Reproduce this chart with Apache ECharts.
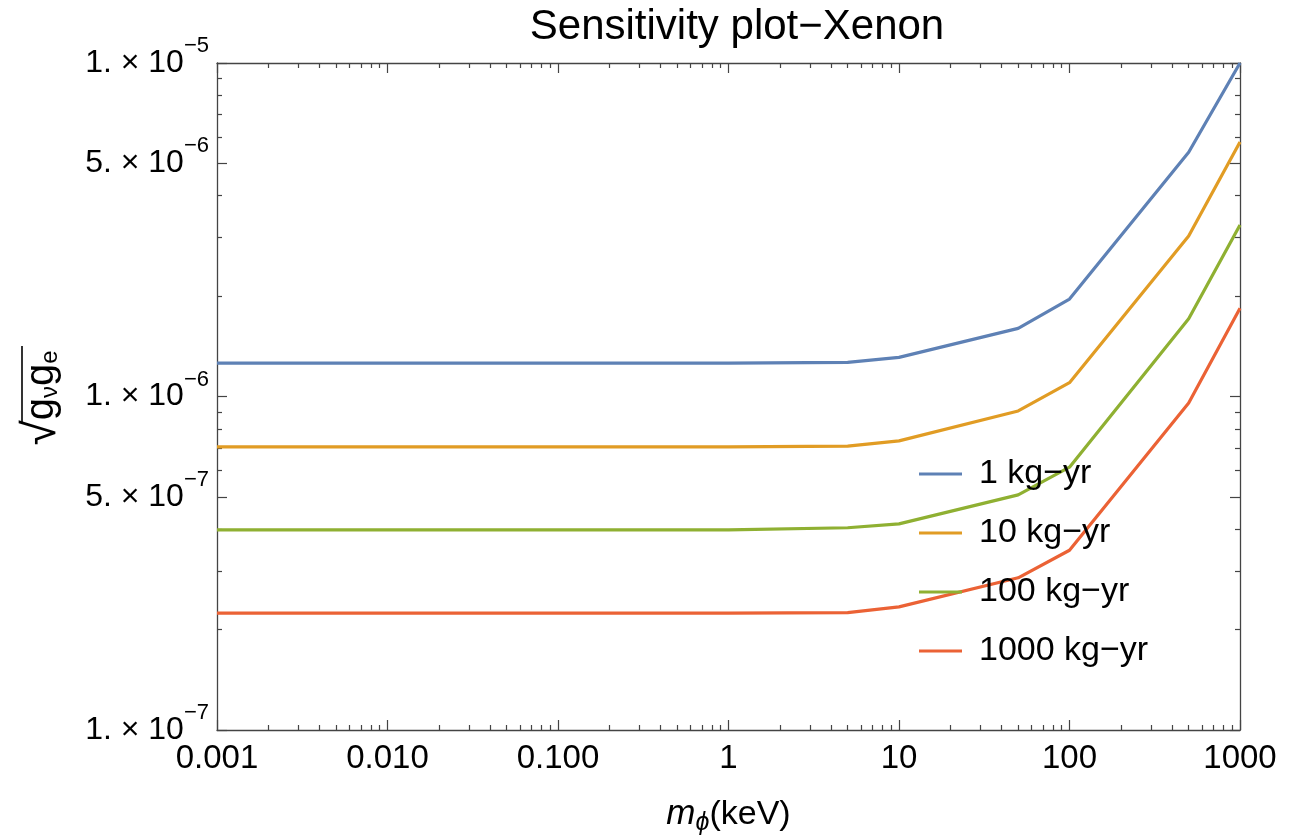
<!DOCTYPE html>
<html><head><meta charset="utf-8">
<script src="https://cdn.jsdelivr.net/npm/echarts@6/dist/echarts.min.js"></script>
<style>html,body{margin:0;padding:0;background:#fff}#c{width:1294px;height:835px}</style>
</head><body><div id="c"></div><script>
// ---- data ----
const massKeV = [0.001, 1, 5, 10, 50, 100, 500, 1000];
const exp1 = [1.26e-6, 1.26e-6, 1.265e-6, 1.31e-6, 1.6e-6, 1.96e-6, 5.4e-6, 1.0e-5];
const exp10 = [7.06e-7, 7.06e-7, 7.1e-7, 7.36e-7, 9.05e-7, 1.10e-6, 3.03e-6, 5.8e-6];
const exp100 = [3.98e-7, 3.98e-7, 4.04e-7, 4.15e-7, 5.07e-7, 6.14e-7, 1.71e-6, 3.27e-6];
const exp1000 = [2.24e-7, 2.24e-7, 2.25e-7, 2.34e-7, 2.86e-7, 3.46e-7, 9.56e-7, 1.84e-6];
const seriesNames = ['1 kg\u2212yr', '10 kg\u2212yr', '100 kg\u2212yr', '1000 kg\u2212yr'];
const seriesColors = ['#5E81B5', '#E19C24', '#8FB032', '#EB6235'];
const xTickValues = [0.001, 0.01, 0.1, 1, 10, 100, 1000];
const xTickLabels = ['0.001', '0.010', '0.100', '1', '10', '100', '1000'];
const yTickValues = [1e-7, 5e-7, 1e-6, 5e-6, 1e-5];
const yTickMant = ['1', '5', '1', '5', '1'];
const yTickExp = ['\u22127', '\u22127', '\u22126', '\u22126', '\u22125'];

// minor tick positions
const xMinor = [];
for (let d = -3; d < 3; d++) for (let k = 2; k <= 9; k++) xMinor.push(+(k * Math.pow(10, d)).toPrecision(3));
const yMinor = [];
for (let d = -7; d < -5; d++) for (const k of [2, 3, 4, 6, 7, 8, 9]) yMinor.push(+(k * Math.pow(10, d)).toPrecision(3));

const FONT = '"Liberation Sans", Arial, sans-serif';
const AX = '#444';
function idxOf(arr, v) { let b = 0, bd = Infinity; arr.forEach((a, i) => { const d = Math.abs(Math.log10(a) - Math.log10(v)); if (d < bd) { bd = d; b = i; } }); return b; }

function xAxisDef(pos, major, show) {
  return {
    type: 'log', logBase: 10, min: 0.001, max: 1000, position: pos, gridIndex: 0,
    axisLine: { show: major, lineStyle: { color: AX, width: 1.3 } },
    axisTick: { show: true, inside: true, length: major ? 10 : 5, customValues: major ? xTickValues : xMinor, lineStyle: { color: AX, width: 1.2 } },
    axisLabel: major && show ? {
      show: true, customValues: xTickValues, fontFamily: FONT, fontSize: 33, color: '#000', margin: 12,
      formatter: v => xTickLabels[idxOf(xTickValues, v)]
    } : { show: false },
    splitLine: { show: false }, minorTick: { show: false }
  };
}
function yAxisDef(pos, major, show) {
  return {
    type: 'log', logBase: 10, min: 1e-7, max: 1e-5, position: pos, gridIndex: 0,
    axisLine: { show: major, lineStyle: { color: AX, width: 1.3 } },
    axisTick: { show: true, inside: true, length: major ? 10 : 5, customValues: major ? yTickValues : yMinor, lineStyle: { color: AX, width: 1.2 } },
    axisLabel: major && show ? {
      show: true, customValues: yTickValues, margin: 8,
      formatter: v => { const i = idxOf(yTickValues, v); return '{m|' + yTickMant[i] + '. \u00d7 10}{e|' + yTickExp[i] + '}'; },
      rich: {
        m: { fontFamily: FONT, fontSize: 32, color: '#000' },
        e: { fontFamily: FONT, fontSize: 22, color: '#000', padding: [0, 0, 34, 0] }
      }
    } : { show: false },
    splitLine: { show: false }, minorTick: { show: false }
  };
}

const xAxes = [xAxisDef('bottom', true, true), xAxisDef('bottom', false, false), xAxisDef('top', true, false), xAxisDef('top', false, false)];
xAxes[0].name = '{m|m}{s|\u03d5}{t|(keV)}';
xAxes[0].nameLocation = 'middle';
xAxes[0].nameGap = 63;
xAxes[0].nameTextStyle = { rich: {
  m: { fontFamily: FONT, fontSize: 35, fontStyle: 'italic', color: '#000' },
  s: { fontFamily: FONT, fontSize: 25, fontStyle: 'italic', color: '#000', padding: [18, 0, 0, 0] },
  t: { fontFamily: FONT, fontSize: 34, color: '#000' } } };

const yAxes = [yAxisDef('left', true, true), yAxisDef('left', false, false), yAxisDef('right', true, false), yAxisDef('right', false, false)];

const dataSets = [exp1, exp10, exp100, exp1000];
const series = dataSets.map((d, i) => ({
  name: seriesNames[i], type: 'line', xAxisIndex: 0, yAxisIndex: 0,
  data: massKeV.map((x, j) => [x, d[j]]),
  showSymbol: false, symbol: 'none', smooth: false,
  lineStyle: { color: seriesColors[i], width: 3.2 }, itemStyle: { color: seriesColors[i] },
  emphasis: { disabled: true }, animation: false
}));

const chart = echarts.init(document.getElementById('c'), null, { renderer: 'canvas' });
chart.setOption({
  backgroundColor: '#fff',
  animation: false,
  title: { text: 'Sensitivity plot\u2212Xenon', left: 732, textAlign: 'center', top: 1,
    textStyle: { fontFamily: FONT, fontSize: 42, fontWeight: 'normal', color: '#000' } },
  grid: { left: 217, right: 54, top: 63, bottom: 105, containLabel: false, outerBoundsMode: 'none' },
  legend: {
    orient: 'vertical', left: 914, top: 452, icon: 'rect', itemWidth: 43, itemHeight: 3, itemGap: 25,
    data: seriesNames,
    textStyle: { fontFamily: FONT, fontSize: 34, color: '#000', lineHeight: 34, padding: [0, 0, 0, 12] }
  },
  graphic: [{
    type: 'group', x: 42, y: 398, rotation: Math.PI / 2,
    children: [
      { type: 'text', x: 0, y: 0, style: {
        text: '{r|\u221a}{g|g}{s|\u03bd}{g|g}{s|e}', align: 'center', verticalAlign: 'middle',
        rich: {
          r: { fontFamily: FONT, fontSize: 46, fill: '#000', color: '#000' },
          g: { fontFamily: FONT, fontSize: 40, fill: '#000', color: '#000' },
          s: { fontFamily: FONT, fontSize: 24, fill: '#000', color: '#000', padding: [16, 0, 0, 0] }
        } } },
      { type: 'line', shape: { x1: -26, y1: -20, x2: 52, y2: -20 }, style: { stroke: '#000', lineWidth: 1.6 } }
    ]
  }],
  xAxis: xAxes, yAxis: yAxes, series
});
</script></body></html>
